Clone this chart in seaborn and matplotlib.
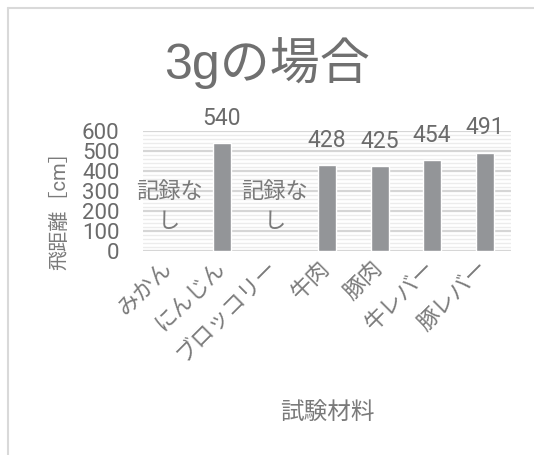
import numpy as np
import pandas as pd
import matplotlib
matplotlib.use("Agg")
import matplotlib.pyplot as plt
from matplotlib.lines import Line2D
from matplotlib.ticker import MultipleLocator
import seaborn as sns

# 飛距離データ（3g）
materials = ["みかん", "にんじん", "ブロッコリー", "牛肉", "豚肉", "牛レバー", "豚レバー"]
distances = [np.nan, 540, np.nan, 428, 425, 454, 491]
no_record = ["みかん", "ブロッコリー"]
y_ticks = [0, 100, 200, 300, 400, 500, 600]

sns.set_theme(style="white")
plt.rcParams["font.family"] = ["Roboto", "Noto Sans CJK JP", "DejaVu Sans"]

text_col = "#6b6b6b"
jp_col = "#7a7a7a"
bar_col = "#939598"

df = pd.DataFrame({"material": materials, "distance": distances})

fig = plt.figure(figsize=(5.34, 4.55), dpi=100)
ax = fig.add_axes([0.2678, 0.4484, 0.6892, 0.2636])

sns.barplot(data=df, x="material", y="distance", order=materials,
            color=bar_col, width=0.34, saturation=1, ax=ax, zorder=3)

ax.set_ylim(0, 600)
ax.set_xlim(-0.5, len(materials) - 0.5)
ax.set_yticks(y_ticks)
ax.yaxis.set_minor_locator(MultipleLocator(20))
ax.grid(axis="y", which="major", color="#d6d6d6", linewidth=1.6, zorder=0)
ax.grid(axis="y", which="minor", color="#ececec", linewidth=1.0, zorder=0)
ax.set_axisbelow(True)
for s in ax.spines.values():
    s.set_visible(False)

ax.tick_params(axis="y", which="both", length=0, pad=17, labelsize=16,
               labelcolor=text_col)
ax.tick_params(axis="x", length=0, pad=10, labelsize=16, labelcolor=jp_col)
plt.setp(ax.get_xticklabels(), rotation=45, ha="right", va="center",
         rotation_mode="anchor")

# 値ラベル
for i, v in enumerate(distances):
    if not np.isnan(v):
        ax.annotate(f"{v:.0f}", (i, v), xytext=(0, 18), textcoords="offset points",
                    ha="center", va="center", fontsize=16.5, color=text_col)

# 記録なし
for name in no_record:
    i = materials.index(name)
    ax.text(i, 220, "記録な\nし", ha="center", va="center", fontsize=16,
            color=jp_col, linespacing=1.45, zorder=4)

ax.set_xlabel("試験材料", fontsize=17, color=jp_col, va="center")
ax.xaxis.set_label_coords(0.5, -1.35)
ax.set_ylabel("飛距離［cm］", fontsize=14.5, color=jp_col, va="center")
ax.yaxis.set_label_coords(-0.225, 0.38)

fig.text(0.5, 0.862, "3gの場合", ha="center", va="center", fontsize=36,
         color="#707070", family=["Liberation Sans", "Noto Sans CJK JP"])

# 外枠
fig.add_artist(Line2D([8 / 534, 8 / 534], [0, 1 - 8 / 455], transform=fig.transFigure,
                      color="#d9d9d9", linewidth=1.5))
fig.add_artist(Line2D([8 / 534, 1], [1 - 8 / 455, 1 - 8 / 455], transform=fig.transFigure,
                      color="#d9d9d9", linewidth=1.5))

fig.savefig("out.png", dpi=100)
